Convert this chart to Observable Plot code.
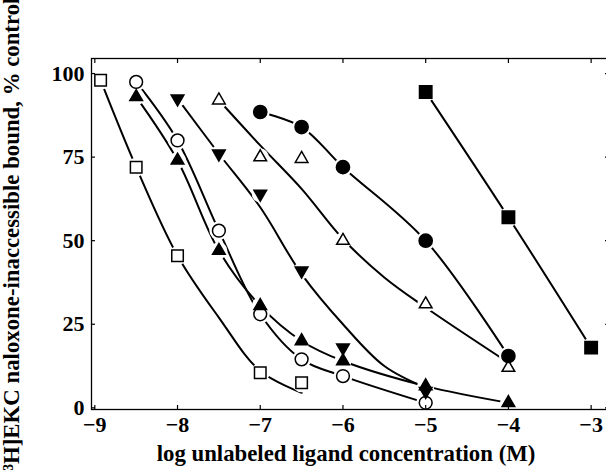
<!DOCTYPE html>
<html><head><meta charset="utf-8">
<script src="https://cdn.jsdelivr.net/npm/d3@7"></script>
<script src="https://cdn.jsdelivr.net/npm/@observablehq/plot@0.6"></script>
<style>html,body{margin:0;padding:0;overflow:hidden;background:#fff;width:606px;height:470px}</style>
</head><body><div id="chart"></div>
<script>
// Axis ticks and labels
const xTicks = [-9, -8, -7, -6, -5, -4, -3];
const yTicks = [0, 25, 50, 75, 100];
const xLabel = "log unlabeled ligand concentration (M)";
const yLabel = "[³H]EKC naloxone-inaccessible bound, % control";

// Measured points (log M, % control)
const openSquareX = [-8.93, -8.5, -8, -7, -6.5];
const openSquareY = [98, 72, 45.5, 10.5, 7.5];
const openCircleX = [-8.5, -8, -7.5, -7, -6.5, -6, -5];
const openCircleY = [97.5, 80, 53, 28, 14.5, 9.5, 1.5];
const filledUpX = [-8.5, -8, -7.5, -7, -6.5, -6, -5, -4];
const filledUpY = [93, 74, 47, 30.5, 20, 14, 6.5, 1.5];
const filledDownX = [-8, -7.5, -7, -6.5, -6, -5];
const filledDownY = [92.5, 76, 64, 41, 18, 5];
const openUpX = [-7.5, -7, -6.5, -6, -5, -4];
const openUpY = [92, 75, 74.5, 50, 31, 12];
const filledCircleX = [-7, -6.5, -6, -5, -4];
const filledCircleY = [88.5, 84, 72, 50, 15.5];
const filledSquareX = [-5, -4, -3];
const filledSquareY = [94.5, 57, 18];

// Fitted curves
const openSquareCurveX = [-8.93, -8.5, -8, -7.5, -7, -6.5];
const openSquareCurveY = [98, 72, 45.5, 27, 11, 4.5];
const openCircleCurveX = [-8.5, -8, -7.5, -7, -6.5, -6, -5];
const openCircleCurveY = [97.5, 80, 53, 28, 14.5, 9.5, 1.5];
const filledUpCurveX = [-8.5, -8, -7.5, -7, -6.5, -6, -5, -4];
const filledUpCurveY = [93, 74, 47, 30.5, 20, 14, 6.5, 1.5];
const filledDownCurveX = [-8, -7.5, -7, -6.5, -6, -5.5, -5];
const filledDownCurveY = [92.5, 76, 60, 40, 25, 12.5, 6];
const openUpCurveX = [-7.5, -7, -6.5, -6, -5.5, -5, -4];
const openUpCurveY = [92, 78.5, 65.5, 50.5, 39, 30, 13.5];
const filledCircleCurveX = [-7, -6.5, -6, -5, -4];
const filledCircleCurveY = [88.5, 84, 72, 50, 15.5];
const filledSquareCurveX = [-5, -4, -3];
const filledSquareCurveY = [94.5, 57, 18];

const zip = (xs, ys) => xs.map((x, i) => ({x, y: ys[i]}));

const series = [
  {pts: zip(openSquareX, openSquareY), curve: zip(openSquareCurveX, openSquareCurveY), symbol: "square", fill: "white", r: 6.5, halo: 9.5, rotate: 0},
  {pts: zip(openCircleX, openCircleY), curve: zip(openCircleCurveX, openCircleCurveY), symbol: "circle", fill: "white", r: 6.4, halo: 9.5, rotate: 0},
  {pts: zip(filledUpX, filledUpY), curve: zip(filledUpCurveX, filledUpCurveY), symbol: "triangle", fill: "black", r: 4.7, halo: 8.5, rotate: 0},
  {pts: zip(filledDownX, filledDownY), curve: zip(filledDownCurveX, filledDownCurveY), symbol: "triangle", fill: "black", r: 4.7, halo: 8.5, rotate: 180},
  {pts: zip(openUpX, openUpY), curve: zip(openUpCurveX, openUpCurveY), symbol: "triangle", fill: "white", r: 4.7, halo: 8.5, rotate: 0},
  {pts: zip(filledCircleX, filledCircleY), curve: zip(filledCircleCurveX, filledCircleCurveY), symbol: "circle", fill: "black", r: 6.6, halo: 9.5, rotate: 0},
  {pts: zip(filledSquareX, filledSquareY), curve: zip(filledSquareCurveX, filledSquareCurveY), symbol: "square", fill: "black", r: 7, halo: 10, rotate: 0}
];

const font = "Liberation Serif, Times New Roman, serif";

const marks = [
  ...series.map(s => Plot.line(s.curve, {x: "x", y: "y", curve: "catmull-rom", stroke: "black", strokeWidth: 2})),
  ...series.map(s => Plot.dot(s.pts, {x: "x", y: "y", r: s.halo, fill: "white", stroke: "none", symbol: "circle"})),
  ...series.map(s => Plot.dot(s.pts, {x: "x", y: "y", r: s.r, symbol: s.symbol, fill: s.fill, stroke: "black", strokeWidth: 1.5, rotate: s.rotate})),
  Plot.frame({stroke: "black", strokeWidth: 1.3}),
  Plot.axisX(xTicks, {anchor: "bottom", tickSize: -4, fill: "none", strokeWidth: 1.2}),
  Plot.axisX(xTicks, {anchor: "top", tickSize: -4, fill: "none", strokeWidth: 1.2}),
  Plot.axisY(yTicks, {anchor: "left", tickSize: -4, fill: "none", strokeWidth: 1.2}),
  Plot.axisY(yTicks, {anchor: "right", tickSize: -4, fill: "none", strokeWidth: 1.2}),
  Plot.axisX(xTicks, {anchor: "bottom", tickSize: 0, tickPadding: 7, fontSize: 22, fontWeight: "bold", fontFamily: font, label: null}),
  Plot.axisY(yTicks, {anchor: "left", tickSize: 0, tickPadding: 7, fontSize: 22, fontWeight: "bold", fontFamily: font, label: null}),
  Plot.text([xLabel], {text: d => d, frameAnchor: "bottom", dy: 44, dx: -4, textAnchor: "middle", lineAnchor: "middle", fontSize: 22.8, fontWeight: "bold", fontFamily: font, fill: "black"}),
  Plot.text([yLabel], {text: d => d, frameAnchor: "left", rotate: -90, dx: -89, dy: 4, textAnchor: "middle", lineAnchor: "top", fontSize: 22.8, fontWeight: "bold", fontFamily: font, fill: "black"})
];

const chart = Plot.plot({
  width: 612,
  height: 470,
  marginLeft: 91,
  marginRight: 4,
  marginTop: 58,
  marginBottom: 61,
  style: {background: "white", color: "black", maxWidth: "none", overflow: "visible", fontFamily: font},
  x: {domain: [-9.04, -2.79], label: null},
  y: {domain: [-0.5, 104.5], label: null},
  marks
});
document.getElementById("chart").appendChild(chart);
</script>
</body></html>
